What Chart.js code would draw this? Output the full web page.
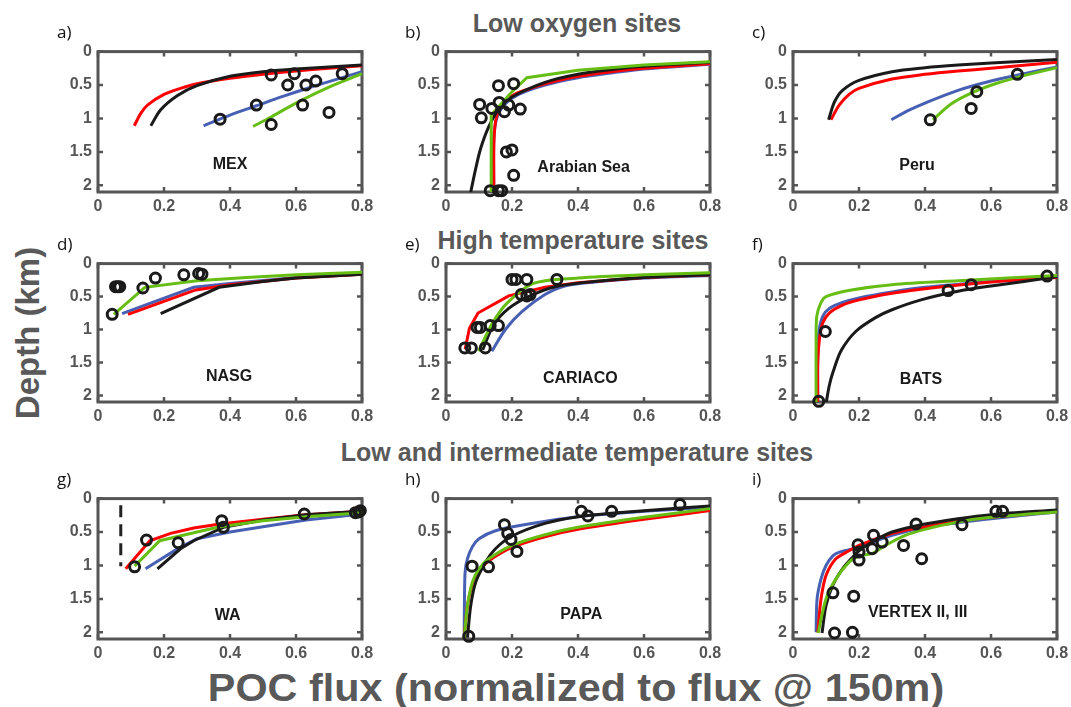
<!DOCTYPE html>
<html><head><meta charset="utf-8">
<script src="https://cdn.jsdelivr.net/npm/chart.js@4/dist/chart.umd.min.js"></script>
<style>
html,body{margin:0;padding:0;background:#fff;width:1071px;height:707px;overflow:hidden;}
body{position:relative;font-family:"Liberation Sans",Arial,Helvetica,sans-serif;}
canvas{position:absolute;}
.t{position:absolute;white-space:nowrap;transform:translate(-50%,-50%);}
.ttl{font-weight:bold;font-size:25px;color:#595959;}
.let{position:absolute;white-space:nowrap;transform:translate(0,-50%);font-family:"Open Sans","Noto Sans",sans-serif;font-size:17px;color:#111;}
.site{font-weight:bold;font-size:16px;color:#1a1a1a;}
</style>
</head><body>
<div class="t ttl" style="left:577px;top:23px">Low oxygen sites</div>
<div class="t ttl" style="left:573px;top:240px">High temperature sites</div>
<div class="t ttl" style="left:577px;top:452px">Low and intermediate temperature sites</div>
<div class="t" style="left:28px;top:333px;transform:translate(-50%,-50%) rotate(-90deg);font-weight:bold;font-size:33px;color:#595959">Depth (km)</div>
<div class="t" style="left:576px;top:688px;font-weight:bold;font-size:39px;color:#595959;transform:translate(-50%,-50%) scaleX(1.06)">POC flux (normalized to flux @ 150m)</div>
<script>
// ---- tick labels ----
const xTicks = [0, 0.2, 0.4, 0.6, 0.8];
const yTicks = [0, 0.5, 1, 1.5, 2];

// ---- a) MEX ----
const mexObs = [[0.37,1.01],[0.48,0.80],[0.525,0.35],[0.525,1.09],[0.575,0.50],[0.595,0.33],[0.63,0.50],[0.62,0.80],[0.66,0.44],[0.70,0.91],[0.74,0.33]];
const mexRed = [[0.11,1.11],[0.13,0.92],[0.15,0.80],[0.2,0.64],[0.25,0.55],[0.3,0.48],[0.4,0.40],[0.5,0.34],[0.6,0.29],[0.7,0.25],[0.8,0.21]];
const mexBlack = [[0.16,1.11],[0.19,0.87],[0.24,0.66],[0.3,0.51],[0.4,0.37],[0.5,0.30],[0.6,0.26],[0.7,0.23],[0.8,0.20]];
const mexBlue = [[0.32,1.11],[0.4,0.95],[0.48,0.81],[0.56,0.67],[0.64,0.54],[0.72,0.42],[0.8,0.30]];
const mexGreen = [[0.47,1.12],[0.52,0.99],[0.6,0.77],[0.7,0.53],[0.8,0.33]];

// ---- b) Arabian Sea ----
const arbObs = [[0.159,0.51],[0.205,0.48],[0.102,0.79],[0.107,0.99],[0.139,0.85],[0.161,0.76],[0.19,0.8],[0.177,0.9],[0.225,0.86],[0.183,1.5],[0.2,1.47],[0.205,1.85],[0.134,2.08],[0.159,2.08],[0.169,2.08]];
const arbBlack = [[0.075,2.1],[0.09,1.75],[0.105,1.45],[0.13,1.12],[0.16,0.86],[0.2,0.68],[0.3,0.46],[0.4,0.34],[0.5,0.27],[0.6,0.22],[0.8,0.16]];
const arbRed = [[0.145,2.1],[0.145,1.4],[0.15,1.05],[0.165,0.82],[0.2,0.66],[0.25,0.56],[0.3,0.48],[0.4,0.37],[0.5,0.3],[0.6,0.25],[0.8,0.18]];
const arbBlue = [[0.145,2.1],[0.145,1.3],[0.155,0.98],[0.18,0.78],[0.22,0.64],[0.3,0.5],[0.4,0.39],[0.5,0.32],[0.6,0.26],[0.8,0.19]];
const arbGreen = [[0.137,2.1],[0.137,0.95],[0.2,0.6],[0.245,0.39],[0.4,0.28],[0.6,0.2],[0.8,0.15]];

// ---- c) Peru ----
const peruObs = [[0.416,1.02],[0.557,0.6],[0.54,0.85],[0.68,0.34]];
const peruBlack = [[0.108,1.02],[0.125,0.76],[0.15,0.58],[0.2,0.43],[0.3,0.3],[0.4,0.24],[0.5,0.2],[0.6,0.17],[0.8,0.12]];
const peruRed = [[0.115,1.02],[0.14,0.8],[0.17,0.64],[0.2,0.55],[0.3,0.41],[0.4,0.34],[0.5,0.29],[0.6,0.25],[0.8,0.16]];
const peruBlue = [[0.298,1.02],[0.35,0.88],[0.4,0.77],[0.5,0.58],[0.6,0.44],[0.7,0.33],[0.8,0.23]];
const peruGreen = [[0.424,1.02],[0.48,0.78],[0.55,0.6],[0.62,0.47],[0.7,0.36],[0.8,0.24]];

// ---- d) NASG ----
const nasgObs = [[0.043,0.77],[0.053,0.35],[0.06,0.35],[0.066,0.35],[0.136,0.37],[0.174,0.22],[0.26,0.17],[0.305,0.15],[0.315,0.16]];
const nasgGreen = [[0.048,0.77],[0.142,0.36],[0.3,0.26],[0.45,0.21],[0.6,0.17],[0.8,0.13]];
const nasgBlue = [[0.073,0.76],[0.29,0.36],[0.4,0.3],[0.6,0.21],[0.8,0.16]];
const nasgRed = [[0.091,0.77],[0.296,0.4],[0.4,0.32],[0.6,0.22],[0.8,0.16]];
const nasgBlack = [[0.19,0.76],[0.367,0.36],[0.5,0.27],[0.6,0.22],[0.8,0.16]];

// ---- e) CARIACO ----
const carObs = [[0.057,1.28],[0.077,1.28],[0.119,1.28],[0.094,0.97],[0.104,0.97],[0.134,0.94],[0.159,0.94],[0.2,0.24],[0.212,0.24],[0.245,0.24],[0.336,0.24],[0.228,0.47],[0.245,0.49],[0.255,0.47]];
const carRed = [[0.058,1.3],[0.071,0.98],[0.097,0.75],[0.19,0.49],[0.3,0.36],[0.4,0.29],[0.6,0.21],[0.8,0.17]];
const carGreen = [[0.099,1.33],[0.14,0.91],[0.185,0.6],[0.265,0.3],[0.4,0.22],[0.6,0.17],[0.8,0.14]];
const carBlack = [[0.111,1.31],[0.144,0.93],[0.19,0.68],[0.25,0.5],[0.331,0.35],[0.45,0.27],[0.6,0.21],[0.8,0.17]];
const carBlue = [[0.139,1.33],[0.18,1.0],[0.23,0.73],[0.3,0.47],[0.36,0.34],[0.45,0.28],[0.6,0.22],[0.8,0.18]];

// ---- f) BATS ----
const batsObs = [[0.098,1.03],[0.078,2.09],[0.47,0.41],[0.54,0.32],[0.77,0.19]];
const batsBlack = [[0.101,2.1],[0.11,1.85],[0.121,1.65],[0.146,1.32],[0.19,1.03],[0.25,0.82],[0.3,0.7],[0.388,0.55],[0.5,0.42],[0.6,0.34],[0.7,0.27],[0.8,0.2]];
const batsRed = [[0.075,2.1],[0.075,1.5],[0.08,1.15],[0.09,0.9],[0.11,0.75],[0.15,0.63],[0.2,0.55],[0.3,0.45],[0.4,0.38],[0.6,0.28],[0.8,0.21]];
const batsBlue = [[0.075,2.1],[0.075,1.4],[0.078,1.05],[0.09,0.8],[0.11,0.68],[0.15,0.59],[0.2,0.52],[0.3,0.43],[0.4,0.36],[0.6,0.27],[0.8,0.2]];
const batsGreen = [[0.07,2.1],[0.07,1.2],[0.072,0.8],[0.084,0.6],[0.1,0.5],[0.177,0.4],[0.3,0.32],[0.5,0.26],[0.8,0.18]];

// ---- g) WA ----
const waObs = [[0.111,1.02],[0.147,0.62],[0.243,0.66],[0.375,0.33],[0.38,0.43],[0.625,0.23],[0.78,0.21],[0.79,0.2],[0.795,0.18]];
const waDash = [[0.069,0.1],[0.069,1.01]];
const waRed = [[0.084,1.05],[0.157,0.63],[0.22,0.52],[0.29,0.44],[0.37,0.38],[0.5,0.31],[0.63,0.24],[0.8,0.19]];
const waGreen = [[0.111,1.01],[0.187,0.63],[0.3,0.5],[0.37,0.42],[0.5,0.33],[0.63,0.27],[0.8,0.21]];
const waBlue = [[0.144,1.05],[0.238,0.76],[0.3,0.6],[0.4,0.5],[0.5,0.42],[0.63,0.32],[0.8,0.23]];
const waBlack = [[0.18,1.05],[0.25,0.75],[0.29,0.63],[0.38,0.43],[0.5,0.32],[0.63,0.24],[0.8,0.19]];

// ---- h) PAPA ----
const papaObs = [[0.079,1.01],[0.069,2.06],[0.129,1.02],[0.177,0.39],[0.187,0.52],[0.197,0.61],[0.215,0.79],[0.41,0.19],[0.43,0.26],[0.502,0.19],[0.709,0.09]];
const papaBlue = [[0.055,2.1],[0.056,1.5],[0.058,1.1],[0.065,0.9],[0.08,0.72],[0.1,0.6],[0.15,0.48],[0.25,0.38],[0.4,0.27],[0.6,0.19],[0.8,0.13]];
const papaBlack = [[0.065,2.08],[0.075,1.6],[0.09,1.25],[0.12,0.95],[0.15,0.75],[0.2,0.56],[0.3,0.37],[0.4,0.27],[0.5,0.22],[0.6,0.18],[0.8,0.11]];
const papaGreen = [[0.055,2.1],[0.065,1.6],[0.08,1.25],[0.1,1.05],[0.13,0.9],[0.2,0.7],[0.3,0.54],[0.4,0.43],[0.6,0.28],[0.8,0.15]];
const papaRed = [[0.055,2.1],[0.065,1.6],[0.08,1.28],[0.1,1.08],[0.13,0.93],[0.2,0.73],[0.3,0.57],[0.4,0.46],[0.6,0.31],[0.8,0.18]];

// ---- i) VERTEX II, III ----
const vtxObs = [[0.121,1.41],[0.126,2.01],[0.184,1.46],[0.18,2.0],[0.197,0.69],[0.2,0.8],[0.2,0.92],[0.244,0.55],[0.24,0.75],[0.27,0.65],[0.335,0.7],[0.373,0.38],[0.39,0.9],[0.512,0.39],[0.615,0.19],[0.635,0.19]];
const vtxBlue = [[0.07,2.0],[0.073,1.5],[0.085,1.2],[0.1,1.0],[0.12,0.86],[0.141,0.8],[0.2,0.73],[0.3,0.55],[0.4,0.43],[0.5,0.36],[0.6,0.3],[0.8,0.2]];
const vtxRed = [[0.075,2.0],[0.085,1.5],[0.1,1.15],[0.13,0.9],[0.17,0.78],[0.2,0.7],[0.3,0.52],[0.4,0.42],[0.5,0.34],[0.6,0.28],[0.8,0.19]];
const vtxGreen = [[0.076,2.01],[0.1,1.5],[0.13,1.2],[0.17,0.95],[0.2,0.86],[0.24,0.82],[0.28,0.7],[0.34,0.55],[0.4,0.46],[0.5,0.35],[0.6,0.28],[0.8,0.2]];
const vtxBlack = [[0.088,2.01],[0.1,1.6],[0.12,1.3],[0.15,1.05],[0.18,0.88],[0.2,0.78],[0.25,0.62],[0.3,0.5],[0.4,0.38],[0.5,0.3],[0.6,0.24],[0.8,0.17]];

// ---- styling / layout ----
const RED = 'rgb(255,0,0)', BLUE = 'rgb(72,96,180)', GREEN = 'rgb(102,190,20)', BLACK = '#1a1a1a', AXIS = '#555';
const COL_L = [98, 446, 793], ROW_T = [51, 263, 498], ROW_H = [141, 139, 141], PW = 264;
const ML = 55, MT = 15, MR = 25, MB = 30;
const FONT = '"Liberation Sans", Arial, Helvetica, sans-serif';

const panels = [
  {letter:'a)', col:0, row:0, site:'MEX', sx:0.40, sy:1.68, obs:mexObs, green:mexGreen, black:mexBlack, red:mexRed, blue:mexBlue},
  {letter:'b)', col:1, row:0, site:'Arabian Sea', sx:0.417, sy:1.72, obs:arbObs, green:arbGreen, black:arbBlack, red:arbRed, blue:arbBlue, flat:['green']},
  {letter:'c)', col:2, row:0, site:'Peru', sx:0.376, sy:1.70, obs:peruObs, green:peruGreen, black:peruBlack, red:peruRed, blue:peruBlue},
  {letter:'d)', col:0, row:1, site:'NASG', sx:0.397, sy:1.70, obs:nasgObs, green:nasgGreen, black:nasgBlack, red:nasgRed, blue:nasgBlue, flat:['green','black','red','blue']},
  {letter:'e)', col:1, row:1, site:'CARIACO', sx:0.407, sy:1.74, obs:carObs, green:carGreen, black:carBlack, red:carRed, blue:carBlue, flat:['red']},
  {letter:'f)', col:2, row:1, site:'BATS', sx:0.388, sy:1.75, obs:batsObs, green:batsGreen, black:batsBlack, red:batsRed, blue:batsBlue},
  {letter:'g)', col:0, row:2, site:'WA', sx:0.393, sy:1.74, obs:waObs, green:waGreen, black:waBlack, red:waRed, blue:waBlue, dash:waDash, flat:['red','black','blue','green']},
  {letter:'h)', col:1, row:2, site:'PAPA', sx:0.41, sy:1.72, obs:papaObs, green:papaGreen, black:papaBlack, red:papaRed, blue:papaBlue},
  {letter:'i)', col:2, row:2, site:'VERTEX II, III', sx:0.378, sy:1.69, obs:vtxObs, green:vtxGreen, black:vtxBlack, red:vtxRed, blue:vtxBlue}
];

const pts = a => a.map(p => ({x:p[0], y:p[1]}));

const frame = {
  id:'frame',
  beforeDatasetsDraw(chart){
    const {ctx, chartArea:a, scales:{x, y}} = chart;
    ctx.save();
    ctx.strokeStyle = AXIS;
    ctx.lineWidth = 2.5;
    ctx.beginPath();
    xTicks.forEach(v => { const p = x.getPixelForValue(v); ctx.moveTo(p, a.bottom); ctx.lineTo(p, a.bottom-5); ctx.moveTo(p, a.top); ctx.lineTo(p, a.top+5); });
    yTicks.forEach(v => { const p = y.getPixelForValue(v); ctx.moveTo(a.left, p); ctx.lineTo(a.left+5, p); ctx.moveTo(a.right, p); ctx.lineTo(a.right-5, p); });
    ctx.stroke();
    ctx.lineWidth = 3;
    ctx.strokeRect(a.left, a.top, a.right-a.left, a.bottom-a.top);
    ctx.restore();
  }
};

panels.forEach(P => {
  const L = COL_L[P.col], T = ROW_T[P.row], H = ROW_H[P.row];
  const cv = document.createElement('canvas');
  const W = ML + PW + MR, HH = MT + H + MB;
  cv.width = W; cv.height = HH;
  cv.style.left = (L - ML) + 'px'; cv.style.top = (T - MT) + 'px';
  cv.style.width = W + 'px'; cv.style.height = HH + 'px';
  document.body.appendChild(cv);

  const flat = P.flat || [];
  const line = (key, color) => ({
    data: pts(P[key]), showLine:true, borderColor:color, backgroundColor:color,
    borderWidth:3, pointRadius:0, tension: flat.includes(key) ? 0 : 0.3, clip:false
  });
  const datasets = [
    {data: pts(P.obs), showLine:false, pointRadius:5, pointHoverRadius:5, pointBorderWidth:3,
     borderColor:BLACK, pointBorderColor:BLACK, backgroundColor:'rgba(0,0,0,0)', pointBackgroundColor:'rgba(0,0,0,0)', clip:false},
    line('green', GREEN), line('black', BLACK), line('red', RED), line('blue', BLUE)
  ];
  if (P.dash) datasets.push({data: pts(P.dash), showLine:true, borderColor:'#222', borderWidth:3, borderDash:[12,7], pointRadius:0, tension:0, clip:false});

  const tickFont = {family: FONT, size:16, weight:'bold'};
  const chart = new Chart(cv, {
    type:'scatter',
    data:{datasets},
    options:{
      responsive:false, animation:false, devicePixelRatio:1,
      layout:{padding:{left:0, top:MT, right:MR, bottom:0}},
      plugins:{legend:{display:false}, tooltip:{enabled:false}},
      events:[],
      scales:{
        x:{type:'linear', min:0, max:0.8,
           grid:{display:false, drawTicks:false}, border:{display:false},
           afterBuildTicks: s => { s.ticks = xTicks.map(v => ({value:v})); },
           afterFit: s => { s.height = MB; },
           ticks:{padding:5, color:AXIS, font:tickFont, maxRotation:0, autoSkip:false, callback: v => String(v)}},
        y:{type:'linear', min:0, max:2.1, reverse:true,
           grid:{display:false, drawTicks:false}, border:{display:false},
           afterBuildTicks: s => { s.ticks = yTicks.map(v => ({value:v})); },
           afterFit: s => { s.width = ML; },
           ticks:{padding:6, color:AXIS, font:tickFont, autoSkip:false, callback: v => String(v)}}
      }
    },
    plugins:[frame]
  });

  // panel letter
  const lt = document.createElement('div');
  lt.className = 'let';
  lt.textContent = P.letter;
  lt.style.left = (L - 41) + 'px';
  lt.style.top = (T - 20) + 'px';
  document.body.appendChild(lt);

  // site label at data coordinates
  const sl = document.createElement('div');
  sl.className = 't site';
  sl.textContent = P.site;
  sl.style.left = (L - ML + chart.scales.x.getPixelForValue(P.sx)) + 'px';
  sl.style.top = (T - MT + chart.scales.y.getPixelForValue(P.sy)) + 'px';
  document.body.appendChild(sl);
});
</script>
</body></html>
